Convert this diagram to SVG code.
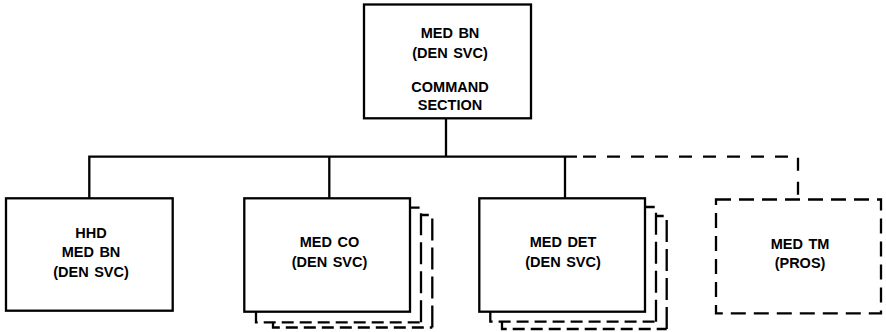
<svg xmlns="http://www.w3.org/2000/svg" width="886" height="332" viewBox="0 0 886 332">
<style>
  .box{fill:#fff;stroke:#000;stroke-width:2.3}
  .dbox{fill:#fff;stroke:#000;stroke-width:2.3;stroke-dasharray:15 8}
  .ln{fill:none;stroke:#000;stroke-width:2.3}
  .dln{fill:none;stroke:#000;stroke-width:2.3;stroke-dasharray:13 11}
  .shh{fill:none;stroke:#000;stroke-width:2.3;stroke-dasharray:12 6}
  .shv{fill:none;stroke:#000;stroke-width:2.3;stroke-dasharray:22 7}
  text{font-family:"Liberation Sans",Arial,Helvetica,sans-serif;font-weight:bold;font-size:14.5px;word-spacing:1.5px;text-anchor:middle;fill:#000}
</style>
<rect width="886" height="332" fill="#fff"/>
<g id="connectors">
  <path class="ln" d="M446 118.3 V156.7"/>
  <path class="ln" d="M89.3 198.3 V156.7 H577"/>
  <path class="ln" d="M329.3 156.7 V198.3"/>
  <path class="ln" d="M565 156.7 V198.3"/>
  <path class="dln" d="M583 156.7 H798 V199.5"/>
</g>
<g id="node-hq">
  <rect class="box" x="364" y="4.5" width="167" height="113.8"/>
  <text x="450" y="37.7">MED BN</text>
  <text x="450" y="57.5">(DEN SVC)</text>
  <text x="450" y="92.3">COMMAND</text>
  <text x="450" y="110.3">SECTION</text>
</g>
<g id="node-hhd">
  <rect class="box" x="6" y="198.3" width="166.7" height="112.4"/>
  <text x="91" y="238.3">HHD</text>
  <text x="91" y="257.3">MED BN</text>
  <text x="91" y="276.5">(DEN SVC)</text>
</g>
<g id="node-medco">
  <path class="shh" d="M256 312 V322.3 H421"/>
  <path class="shv" d="M421 322.3 V207.7 H411"/>
  <path class="shh" d="M273 322.3 V327.5 H432.3"/>
  <path class="shv" d="M432.3 327.5 V215 H422"/>
  <rect class="box" x="244.3" y="198.3" width="165.7" height="113.4"/>
  <text x="329.5" y="247.3">MED CO</text>
  <text x="329.5" y="267">(DEN SVC)</text>
</g>
<g id="node-meddet">
  <path class="shh" d="M490.3 312 V321.7 H656"/>
  <path class="shv" d="M656 321.7 V207 H646"/>
  <path class="shh" d="M502 321.7 V329 H666.7"/>
  <path class="shv" d="M666.7 329 V216 H657"/>
  <rect class="box" x="479.3" y="198.3" width="165.7" height="113.4"/>
  <text x="563" y="247.3">MED DET</text>
  <text x="563" y="267">(DEN SVC)</text>
</g>
<g id="node-medtm">
  <rect class="dbox" x="716" y="199.5" width="165" height="113.8"/>
  <text x="800" y="249">MED TM</text>
  <text x="800" y="268">(PROS)</text>
</g>
</svg>
